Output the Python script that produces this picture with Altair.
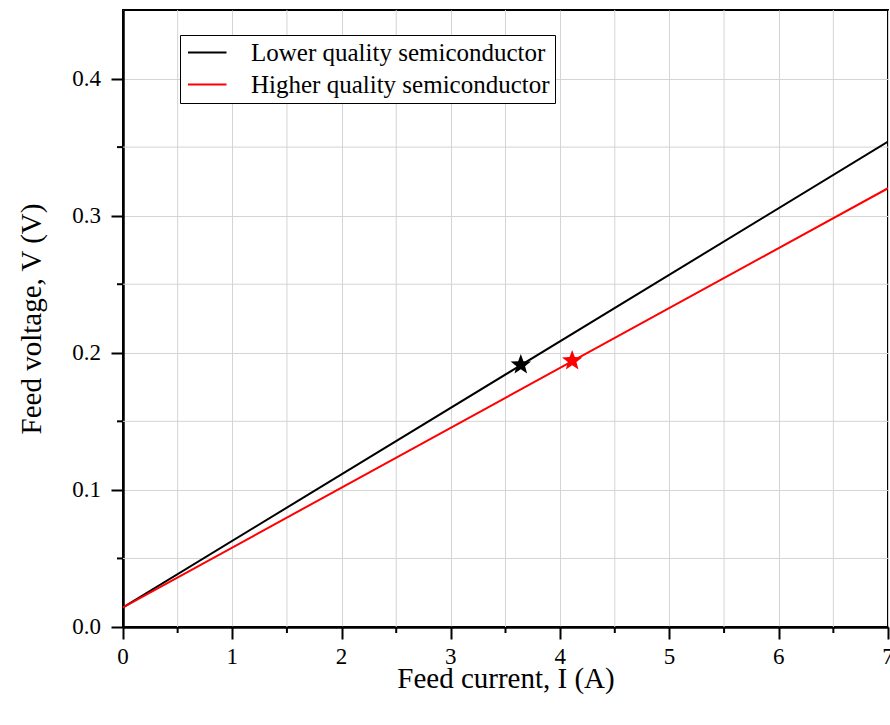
import math
import altair as alt
import pandas as pd

# Data
series = ["Lower quality semiconductor", "Higher quality semiconductor"]
colors = ["#000000", "#ff0000"]
line_x = [0, 7]
lower_v = [0.0143, 0.354]
higher_v = [0.0143, 0.320]
star_x = [3.64, 4.11]
star_v = [0.192, 0.195]

x_major = [0, 1, 2, 3, 4, 5, 6, 7]
x_minor = [0.5, 1.5, 2.5, 3.5, 4.5, 5.5, 6.5]
y_major = [0.0, 0.1, 0.2, 0.3, 0.4]
y_minor = [0.05, 0.15, 0.25, 0.35]

rows = []
for xi, v in zip(line_x, lower_v):
    rows.append({"I": xi, "V": v, "series": series[0]})
for xi, v in zip(line_x, higher_v):
    rows.append({"I": xi, "V": v, "series": series[1]})
lines_df = pd.DataFrame(rows)
stars_df = pd.DataFrame({"I": star_x, "V": star_v, "series": series})
xminor_df = pd.DataFrame({"I": x_minor})
yminor_df = pd.DataFrame({"V": y_minor})
xmajor_df = pd.DataFrame({"I": x_major})
ymajor_df = pd.DataFrame({"V": y_major})

# star symbol path in unit coordinates
pts = []
for k in range(10):
    r = 1.0 if k % 2 == 0 else 0.42
    a = -math.pi / 2 + k * math.pi / 5
    pts.append((r * math.cos(a), r * math.sin(a) + 0.1))
star_path = "M" + "L".join(f"{px:.3f},{py:.3f}" for px, py in pts) + "Z"

FONT = "Liberation Serif"
W, H = 765, 617
GRID = "#d4d4d4"

color_scale = alt.Scale(domain=series, range=colors)
xs = alt.Scale(domain=[0, 7], nice=False)
ys = alt.Scale(domain=[0, 0.45], nice=False)

common_axis = dict(
    labels=False,
    titleFont=FONT,
    titleFontSize=29,
    titleFontWeight="normal",
    titleColor="black",
    domainColor="black",
    domainWidth=2.5,
    tickColor="black",
    tickWidth=2,
    tickSize=12,
    gridColor=GRID,
    gridWidth=1,
)

x_enc = alt.X(
    "I:Q",
    scale=xs,
    axis=alt.Axis(
        title="Feed current, I (A)",
        values=x_major,
        titlePadding=24,
        **common_axis,
    ),
)
y_enc = alt.Y(
    "V:Q",
    scale=ys,
    axis=alt.Axis(
        title="Feed voltage, V (V)",
        values=y_major,
        titlePadding=64,
        **common_axis,
    ),
)

# minor grid lines
xgrid = alt.Chart(xminor_df).mark_rule(color=GRID, strokeWidth=1).encode(
    x=alt.X("I:Q", scale=xs), y=alt.value(0), y2=alt.value(H)
)
ygrid = alt.Chart(yminor_df).mark_rule(color=GRID, strokeWidth=1).encode(
    y=alt.Y("V:Q", scale=ys), x=alt.value(0), x2=alt.value(W)
)

lines = alt.Chart(lines_df).mark_line(strokeWidth=2, clip=True).encode(
    x=x_enc,
    y=y_enc,
    color=alt.Color(
        "series:N",
        scale=color_scale,
        sort=series,
        legend=alt.Legend(
            title=None,
            orient="none",
            legendX=57,
            legendY=25,
            symbolType="M-1.9,0L5.8,0",
            symbolSize=100,
            symbolStrokeWidth=2,
            labelFont=FONT,
            labelFontSize=25,
            labelColor="black",
            labelLimit=500,
            labelExpr="datum.label + '\u2002'",
            fillColor="white",
            strokeColor="black",
            padding=5,
            rowPadding=6,
            labelOffset=41,
        ),
    ),
)

stars = alt.Chart(stars_df).mark_point(
    shape=star_path, filled=True, size=460, opacity=1
).encode(
    x=alt.X("I:Q", scale=xs),
    y=alt.Y("V:Q", scale=ys),
    color=alt.Color("series:N", scale=color_scale, legend=None),
)

# minor ticks outside the frame
xticks = alt.Chart(xminor_df).mark_rule(color="black", strokeWidth=2).encode(
    x=alt.X("I:Q", scale=xs), y=alt.value(H), y2=alt.value(H + 6)
)
yticks = alt.Chart(yminor_df).mark_rule(color="black", strokeWidth=2).encode(
    y=alt.Y("V:Q", scale=ys), x=alt.value(-6), x2=alt.value(0)
)

# tick labels
xlabels = alt.Chart(xmajor_df).mark_text(
    font=FONT, fontSize=23, color="black", align="center", baseline="top"
).encode(
    x=alt.X("I:Q", scale=xs),
    y=alt.value(H + 19),
    text=alt.Text("I:Q", format="d"),
)
ylabels = alt.Chart(ymajor_df).mark_text(
    font=FONT, fontSize=23, color="black", align="right", baseline="middle"
).encode(
    y=alt.Y("V:Q", scale=ys),
    x=alt.value(-22),
    text=alt.Text("V:Q", format=".1f"),
)

chart = (
    alt.layer(xgrid, ygrid, lines, stars, xticks, yticks, xlabels, ylabels)
    .properties(
        width=W,
        height=H,
        autosize=alt.AutoSizeParams(type="none"),
        padding={"left": 123, "top": 10, "right": 2, "bottom": 98},
    )
    .configure_view(stroke="black", strokeWidth=2)
)

chart.save("out.html", embed_options={"renderer": "svg", "actions": False})
